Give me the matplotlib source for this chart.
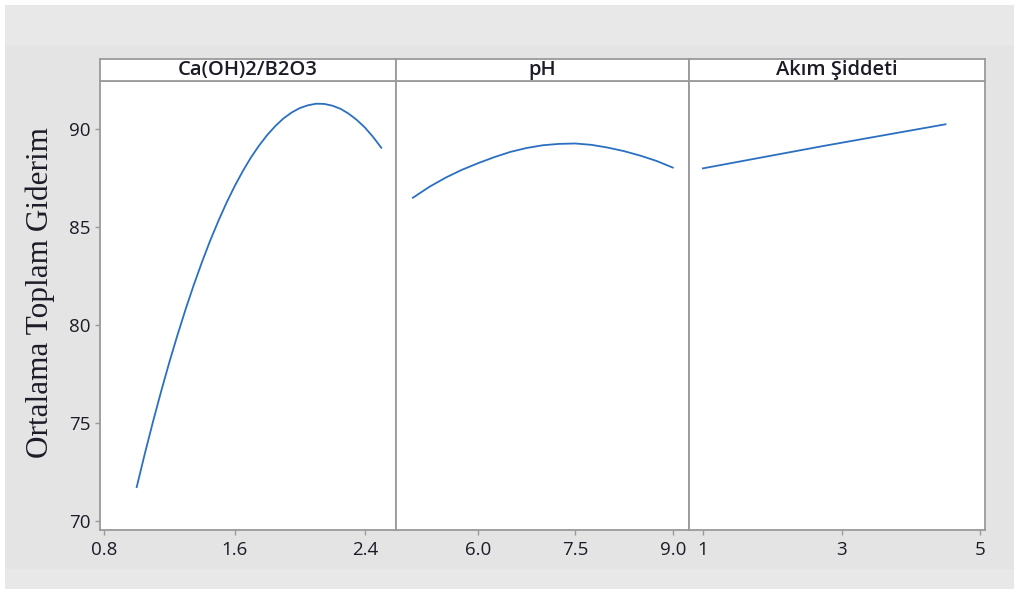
import matplotlib
matplotlib.use("Agg")
import matplotlib.pyplot as plt
from matplotlib.patches import Rectangle

# ---- data ----
ratio_x = [1.0, 1.05, 1.1, 1.15, 1.2, 1.25, 1.3, 1.35, 1.4, 1.45, 1.5, 1.55, 1.6, 1.65, 1.7, 1.75,
           1.8, 1.85, 1.9, 1.95, 2.0, 2.05, 2.1, 2.15, 2.2, 2.25, 2.3, 2.35, 2.4, 2.45, 2.5]
ratio_y = [71.73, 73.44, 75.07, 76.62, 78.10, 79.49, 80.81, 82.05, 83.21, 84.30, 85.30, 86.23, 87.08,
           87.85, 88.55, 89.16, 89.70, 90.16, 90.55, 90.85, 91.08, 91.22, 91.30, 91.29, 91.20, 91.04,
           90.79, 90.47, 90.08, 89.60, 89.05]

ph_x = [5.0, 5.25, 5.5, 5.75, 6.0, 6.25, 6.5, 6.75, 7.0, 7.25, 7.5, 7.75, 8.0, 8.25, 8.5, 8.75, 9.0]
ph_y = [86.5, 87.05, 87.52, 87.92, 88.26, 88.57, 88.84, 89.04, 89.18, 89.25, 89.27, 89.2, 89.06,
        88.88, 88.65, 88.38, 88.04]

akim_x = [1.0, 2.75, 4.5]
akim_y = [88.0, 89.15, 90.25]

panel_titles = ["Ca(OH)2/B2O3", "pH", "Akım Şiddeti"]
panel_x = [ratio_x, ph_x, akim_x]
panel_y = [ratio_y, ph_y, akim_y]
xticks = [[0.8, 1.6, 2.4], [6.0, 7.5, 9.0], [1, 3, 5]]
xticklabels = [["0.8", "1.6", "2.4"], ["6.0", "7.5", "9.0"], ["1", "3", "5"]]
xlims = [(0.775, 2.59), (4.74, 9.25), (0.8, 5.07)]
yticks = [70, 75, 80, 85, 90]
ylabel = "Ortalama Toplam Giderim"

line_col = "#2B70C0"
edge_col = "#9A9A9A"
text_col = "#1C1C28"

W, H = 1019, 594
fig = plt.figure(figsize=(W / 100, H / 100), dpi=100, facecolor="white")

# gray frame background (drawn behind everything)
bg = [((5, 5), (W - 10, H - 10), "#E4E4E4"),
      ((5, H - 45), (W - 10, 40), "#E8E8E8"),
      ((5, 5), (W - 10, 20), "#E8E8E8")]
for (bx, by), (bw, bh), c in bg:
    fig.patches.append(Rectangle((bx / W, by / H), bw / W, bh / H, transform=fig.transFigure,
                                 facecolor=c, edgecolor="none", zorder=-10))

# panel edges in pixels
edges = [100, 396, 689, 985]
plot_top, plot_bot = 81, 530
head_top = 59

for i in range(3):
    x0 = edges[i] / W
    w = (edges[i + 1] - edges[i]) / W
    ax = fig.add_axes([x0, 1 - plot_bot / H, w, (plot_bot - plot_top) / H])
    ax.plot(panel_x[i], panel_y[i], color=line_col, linewidth=1.3)
    ax.set_xlim(*xlims[i])
    ax.set_ylim(69.54, 92.46)
    ax.set_xticks(xticks[i])
    ax.set_xticklabels(xticklabels[i], family="Open Sans", fontsize=13.5, color=text_col)
    if i == 0:
        ax.set_yticks(yticks)
        ax.set_yticklabels([str(v) for v in yticks], family="Open Sans", fontsize=13.5, color=text_col)
    else:
        ax.set_yticks([])
    ax.tick_params(axis="x", length=3.6, width=1, color=edge_col, pad=4.5)
    ax.tick_params(axis="y", length=3.6, width=1, color=edge_col, pad=3.5)
    for sp in ax.spines.values():
        sp.set_color(edge_col)
        sp.set_linewidth(1.3)

    # header strip
    hax = fig.add_axes([x0, 1 - plot_top / H, w, (plot_top - head_top) / H])
    hax.set_xticks([])
    hax.set_yticks([])
    for sp in hax.spines.values():
        sp.set_color(edge_col)
        sp.set_linewidth(1.3)
    hax.text(0.5, 0.5, panel_titles[i], ha="center", va="center", transform=hax.transAxes,
             family="Open Sans", fontweight="semibold", fontsize=14.5, color=text_col)

fig.text(40 / W, 1 - 292 / H, ylabel, rotation=90, ha="center", va="center",
         family="Liberation Serif", fontsize=22.5, color=text_col)

fig.savefig("out.png", dpi=100, facecolor=fig.get_facecolor())
